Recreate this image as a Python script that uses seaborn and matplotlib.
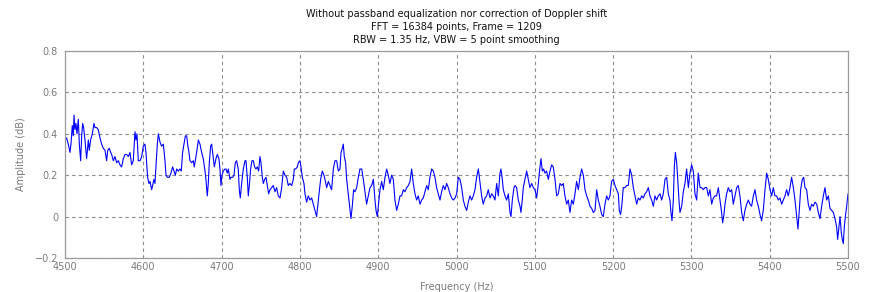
import numpy as np
import pandas as pd
import matplotlib
matplotlib.use("Agg")
import matplotlib.pyplot as plt
import seaborn as sns

title_lines = [
    "Without passband equalization nor correction of Doppler shift",
    "FFT = 16384 points, Frame = 1209",
    "RBW = 1.35 Hz, VBW = 5 point smoothing",
]
x_label = "Frequency (Hz)"
y_label = "Amplitude (dB)"
x_ticks = [4500, 4600, 4700, 4800, 4900, 5000, 5100, 5200, 5300, 5400, 5500]
y_ticks = [-0.2, 0, 0.2, 0.4, 0.6, 0.8]
y_tick_labels = ["\u22120.2", "0", "0.2", "0.4", "0.6", "0.8"]

freq_a = [4500.0, 4502.1, 4504.2, 4506.4, 4507.6, 4509.3, 4510.6, 4511.5, 4512.7, 4514.0,
          4515.3, 4517.0, 4518.3, 4520.0, 4521.3, 4522.5, 4523.8, 4525.5, 4527.6, 4529.8,
          4531.0, 4532.7, 4534.9, 4537.0, 4538.3, 4540.4, 4542.5, 4544.7, 4546.8, 4548.9,
          4551.1, 4553.2, 4554.5, 4556.6, 4558.3, 4559.6, 4561.7, 4563.8, 4566.0, 4568.1,
          4570.2, 4572.3, 4574.5, 4576.6, 4578.7, 4580.9, 4583.0, 4585.1, 4587.2, 4589.4,
          4590.6, 4591.9, 4593.6, 4595.8, 4597.9, 4600.0, 4602.1, 4603.4, 4605.5, 4607.2,
          4608.5, 4610.7, 4611.9, 4613.6, 4614.9, 4616.2, 4617.9, 4619.2, 4621.3, 4623.4,
          4625.6]
amp_a = [0.37, 0.38, 0.35, 0.31, 0.35, 0.44, 0.39, 0.49, 0.42, 0.45,
         0.40, 0.47, 0.35, 0.27, 0.39, 0.45, 0.43, 0.37, 0.28, 0.37,
         0.32, 0.37, 0.40, 0.45, 0.43, 0.43, 0.42, 0.38, 0.35, 0.33,
         0.32, 0.27, 0.32, 0.33, 0.31, 0.30, 0.27, 0.29, 0.26, 0.27,
         0.25, 0.24, 0.28, 0.30, 0.30, 0.29, 0.31, 0.25, 0.27, 0.41,
         0.37, 0.40, 0.27, 0.27, 0.29, 0.34, 0.35, 0.31, 0.19, 0.16,
         0.17, 0.13, 0.15, 0.18, 0.16, 0.24, 0.35, 0.40, 0.36, 0.34,
         0.35]

freq_b = [4627.7, 4629.0, 4630.7, 4633.2, 4635.3, 4637.5, 4639.2, 4640.9, 4642.6, 4644.7,
          4646.8, 4648.5, 4650.2, 4652.0, 4653.7, 4655.4, 4656.6, 4658.3, 4659.6, 4661.7,
          4663.9, 4665.1, 4666.8, 4668.1, 4670.3, 4672.4, 4674.5, 4676.6, 4678.8, 4680.0,
          4681.7, 4683.0, 4684.3, 4686.0, 4687.3, 4688.6, 4690.7, 4692.8, 4694.5, 4696.6,
          4697.9, 4699.2, 4700.5, 4702.2, 4704.3, 4705.6, 4707.3, 4708.6, 4710.7, 4712.0,
          4714.1, 4715.8, 4717.5, 4719.2, 4721.3, 4722.6, 4723.9, 4725.6, 4727.7, 4729.9,
          4731.1, 4732.8, 4734.1, 4735.4, 4737.1, 4738.8, 4740.5, 4742.2, 4743.9, 4745.6,
          4747.3, 4749.0, 4750.3, 4752.0, 4753.3, 4755.0, 4756.7, 4758.4, 4760.1]
amp_b = [0.27, 0.20, 0.19, 0.19, 0.21, 0.24, 0.22, 0.20, 0.23, 0.22,
         0.23, 0.22, 0.31, 0.35, 0.39, 0.39, 0.35, 0.31, 0.27, 0.26,
         0.27, 0.24, 0.28, 0.31, 0.37, 0.35, 0.31, 0.28, 0.22, 0.18,
         0.10, 0.16, 0.26, 0.34, 0.35, 0.31, 0.24, 0.28, 0.30, 0.28,
         0.23, 0.15, 0.20, 0.22, 0.23, 0.23, 0.21, 0.23, 0.18, 0.19,
         0.19, 0.20, 0.26, 0.27, 0.23, 0.13, 0.09, 0.16, 0.23, 0.27,
         0.27, 0.19, 0.10, 0.15, 0.23, 0.27, 0.27, 0.24, 0.23, 0.24,
         0.22, 0.29, 0.26, 0.19, 0.16, 0.18, 0.19, 0.15, 0.11]

freq_c = [4761.8, 4763.9, 4766.0, 4768.2, 4770.3, 4772.4, 4774.6, 4776.7, 4778.8, 4780.9,
          4783.1, 4785.2, 4787.3, 4789.5, 4791.6, 4792.9, 4794.6, 4796.7, 4798.0, 4800.1,
          4801.4, 4803.1, 4805.2, 4806.5, 4808.6, 4810.7, 4812.9, 4815.0, 4817.1, 4819.3,
          4821.4, 4822.7, 4824.4, 4826.5, 4828.6, 4830.7, 4832.0, 4834.2, 4836.3, 4838.4,
          4840.5, 4842.7, 4844.8, 4846.9, 4849.1, 4851.2, 4852.5, 4854.2, 4855.4, 4856.7,
          4858.4, 4859.7, 4861.8, 4863.5, 4865.2, 4866.9, 4868.6, 4870.3, 4872.5, 4874.6,
          4876.7, 4878.9, 4881.0, 4883.1, 4885.2, 4887.4, 4889.5, 4891.6, 4893.8]
amp_c = [0.13, 0.14, 0.15, 0.12, 0.14, 0.10, 0.09, 0.14, 0.22, 0.20,
         0.19, 0.15, 0.16, 0.15, 0.18, 0.23, 0.23, 0.24, 0.26, 0.27,
         0.24, 0.19, 0.16, 0.11, 0.07, 0.10, 0.08, 0.09, 0.06, 0.03,
         0.00, 0.05, 0.11, 0.18, 0.22, 0.20, 0.18, 0.14, 0.17, 0.15,
         0.13, 0.23, 0.27, 0.27, 0.22, 0.23, 0.31, 0.33, 0.35, 0.29,
         0.26, 0.18, 0.11, 0.05, -0.01, 0.05, 0.13, 0.12, 0.14, 0.19,
         0.23, 0.23, 0.18, 0.12, 0.06, 0.10, 0.14, 0.15, 0.18]

freq_d = [4895.9, 4897.2, 4898.9, 4900.1, 4902.3, 4904.4, 4906.5, 4908.7, 4910.8, 4912.9,
          4915.0, 4917.2, 4919.3, 4921.4, 4923.6, 4925.7, 4927.8, 4929.9, 4932.1, 4934.2,
          4936.3, 4938.5, 4940.6, 4942.7, 4944.8, 4947.0, 4949.1, 4951.2, 4953.4, 4955.5,
          4957.6, 4959.7, 4961.9, 4964.0, 4966.1, 4968.3, 4970.4, 4972.5, 4974.6, 4976.8,
          4978.9, 4981.0, 4983.2, 4985.3, 4987.4, 4989.5, 4991.7, 4993.8, 4995.9, 4998.1,
          5000.2, 5002.3, 5004.4, 5006.6, 5008.7, 5010.8, 5013.0, 5015.1, 5017.2, 5019.3,
          5021.5, 5023.6, 5025.7, 5027.9]
amp_d = [0.08, 0.03, 0.00, 0.05, 0.13, 0.17, 0.13, 0.19, 0.23, 0.20,
         0.16, 0.20, 0.18, 0.08, 0.03, 0.06, 0.10, 0.10, 0.13, 0.12,
         0.14, 0.15, 0.17, 0.23, 0.16, 0.11, 0.08, 0.10, 0.06, 0.08,
         0.09, 0.12, 0.15, 0.13, 0.19, 0.23, 0.22, 0.19, 0.14, 0.11,
         0.08, 0.12, 0.15, 0.13, 0.16, 0.14, 0.11, 0.09, 0.08, 0.09,
         0.11, 0.19, 0.18, 0.14, 0.08, 0.05, 0.03, 0.07, 0.10, 0.08,
         0.10, 0.13, 0.19, 0.23]

freq_e = [5030.8, 5032.1, 5034.2, 5036.4, 5038.5, 5040.6, 5042.8, 5044.9, 5047.0, 5049.1,
          5051.3, 5053.4, 5055.5, 5056.8, 5058.5, 5059.8, 5061.9, 5064.0, 5066.2, 5068.3,
          5069.6, 5071.3, 5073.4, 5074.7, 5076.8, 5078.9, 5081.1, 5082.3, 5084.0, 5085.3,
          5087.5, 5089.6, 5091.7, 5093.8, 5096.0, 5098.1, 5100.2, 5102.4, 5104.5, 5106.6,
          5107.9, 5109.6, 5111.3, 5113.0, 5115.1, 5117.3, 5119.4, 5121.5, 5123.6, 5125.8,
          5127.9, 5130.0, 5132.2, 5134.3, 5136.4, 5138.5, 5140.7, 5142.8, 5144.9, 5147.1,
          5149.2, 5151.3, 5153.4, 5155.6, 5157.7, 5159.8, 5162.0]
amp_e = [0.14, 0.10, 0.06, 0.09, 0.10, 0.13, 0.09, 0.11, 0.10, 0.08,
         0.16, 0.10, 0.21, 0.23, 0.18, 0.13, 0.10, 0.08, 0.11, 0.02,
         0.00, 0.08, 0.14, 0.15, 0.14, 0.08, 0.05, 0.02, 0.08, 0.14,
         0.18, 0.22, 0.18, 0.14, 0.16, 0.14, 0.13, 0.09, 0.16, 0.24,
         0.28, 0.22, 0.23, 0.21, 0.22, 0.18, 0.22, 0.25, 0.24, 0.18,
         0.10, 0.11, 0.16, 0.15, 0.16, 0.10, 0.06, 0.08, 0.02, 0.08,
         0.06, 0.11, 0.17, 0.13, 0.19, 0.23, 0.20]

freq_f = [5164.1, 5166.2, 5168.3, 5170.5, 5172.6, 5174.7, 5176.9, 5179.0, 5181.1, 5183.2,
          5185.4, 5187.5, 5189.6, 5191.8, 5193.9, 5196.0, 5198.1, 5200.3, 5202.4, 5204.5,
          5206.7, 5207.9, 5209.6, 5211.3, 5213.0, 5215.2, 5217.3, 5219.4, 5221.6, 5223.7,
          5225.8, 5227.9, 5230.1, 5232.2, 5234.3, 5236.5, 5238.6, 5240.7, 5242.8, 5245.0,
          5247.1, 5249.2, 5251.4, 5253.5, 5255.6, 5257.7, 5259.9, 5262.0, 5264.1, 5266.3,
          5268.4, 5270.5, 5272.6, 5273.9, 5275.2, 5276.9, 5278.2, 5279.5, 5281.2, 5282.4,
          5284.1, 5285.4, 5287.6, 5289.7, 5291.8, 5293.9, 5296.1]
amp_f = [0.13, 0.10, 0.08, 0.05, 0.04, 0.02, 0.03, 0.13, 0.08, 0.05,
         0.01, 0.00, 0.06, 0.10, 0.08, 0.10, 0.17, 0.18, 0.15, 0.13,
         0.11, 0.03, 0.01, 0.06, 0.14, 0.14, 0.15, 0.15, 0.23, 0.20,
         0.14, 0.10, 0.06, 0.09, 0.08, 0.10, 0.09, 0.11, 0.12, 0.14,
         0.10, 0.08, 0.05, 0.10, 0.08, 0.10, 0.11, 0.08, 0.11, 0.18,
         0.19, 0.11, 0.08, 0.02, -0.02, 0.08, 0.24, 0.31, 0.26, 0.19,
         0.08, 0.02, 0.05, 0.12, 0.16, 0.23, 0.14]

freq_g = [5298.2, 5300.3, 5302.4, 5304.6, 5306.7, 5308.8, 5311.0, 5313.1, 5315.2, 5317.3,
          5319.5, 5321.6, 5323.7, 5325.9, 5328.0, 5330.1, 5332.2, 5334.4, 5336.5, 5338.6,
          5339.9, 5341.6, 5342.9, 5345.0, 5347.1, 5349.3, 5351.4, 5353.5, 5355.7, 5357.8,
          5359.9, 5362.0, 5364.2, 5366.3, 5368.4, 5370.6, 5372.7, 5374.8, 5376.9, 5379.1,
          5381.2, 5383.3, 5385.5, 5387.6, 5389.7, 5391.8, 5394.0, 5396.1, 5398.2, 5400.4,
          5402.5, 5404.6, 5406.7, 5408.9, 5411.0, 5413.1, 5415.3, 5417.4, 5419.5, 5421.6,
          5423.8, 5425.9, 5428.0, 5430.2, 5432.3]
amp_g = [0.21, 0.25, 0.22, 0.11, 0.08, 0.21, 0.14, 0.14, 0.13, 0.14,
         0.14, 0.10, 0.13, 0.06, 0.09, 0.10, 0.10, 0.14, 0.08, 0.02,
         -0.03, 0.01, 0.06, 0.11, 0.14, 0.12, 0.13, 0.06, 0.10, 0.14,
         0.15, 0.10, 0.02, -0.02, 0.03, 0.06, 0.08, 0.06, 0.05, 0.10,
         0.13, 0.08, 0.05, 0.01, -0.02, 0.03, 0.13, 0.21, 0.18, 0.13,
         0.10, 0.14, 0.10, 0.10, 0.08, 0.09, 0.06, 0.08, 0.10, 0.13,
         0.10, 0.14, 0.19, 0.14, 0.08]

freq_h = [5434.4, 5436.1, 5437.8, 5439.5, 5441.7, 5443.4, 5445.1, 5447.2, 5449.3, 5451.5,
          5453.6, 5455.7, 5457.8, 5460.0, 5462.1, 5464.2, 5466.4, 5468.5, 5470.6, 5472.7,
          5474.9, 5477.0, 5479.1, 5481.3, 5483.4, 5485.5, 5486.8, 5488.5, 5489.8, 5491.5,
          5492.7, 5494.0, 5495.3, 5496.6, 5498.3, 5499.6, 5500.0]
amp_h = [0.00, -0.06, 0.03, 0.13, 0.18, 0.19, 0.14, 0.13, 0.06, 0.03,
         0.06, 0.05, 0.07, 0.06, 0.02, -0.01, 0.05, 0.10, 0.14, 0.08,
         0.10, 0.04, 0.03, 0.02, -0.01, -0.05, -0.11, -0.05, 0.00, -0.08,
         -0.11, -0.13, -0.05, 0.00, 0.05, 0.10, 0.11]

freq = freq_a + freq_b + freq_c + freq_d + freq_e + freq_f + freq_g + freq_h
amp = amp_a + amp_b + amp_c + amp_d + amp_e + amp_f + amp_g + amp_h
df = pd.DataFrame({"freq": freq, "amp": amp})

sns.set_style("white")
plt.rcParams["font.family"] = ["DejaVu Sans"]

fig = plt.figure(figsize=(8.72, 2.92), dpi=100)
ax = fig.add_axes([65 / 872, 1 - 258 / 292, (848 - 65) / 872, (258 - 51) / 292])

sns.lineplot(data=df, x="freq", y="amp", ax=ax, color="#0000ff", linewidth=0.8,
             estimator=None, sort=False)

ax.set_xlim(x_ticks[0], x_ticks[-1])
ax.set_ylim(y_ticks[0], y_ticks[-1])
ax.set_xticks(x_ticks)
ax.set_xticklabels([str(t) for t in x_ticks])
ax.set_yticks(y_ticks)
ax.set_yticklabels(y_tick_labels)
ax.grid(True, color="#8a8a8a", linestyle=(0, (3, 3)), linewidth=0.8)
ax.tick_params(axis="x", colors="#7a7a7a", labelsize=7, length=0, pad=3)
ax.tick_params(axis="y", colors="#7a7a7a", labelsize=7, length=0, pad=5)
for s in ax.spines.values():
    s.set_color("#9a9a9a")
    s.set_linewidth(0.9)

ax.set_xlabel(x_label, fontsize=7, color="#7a7a7a", labelpad=7)
ax.set_ylabel(y_label, fontsize=7, color="#7a7a7a", labelpad=6)
ax.set_title("\n".join(title_lines), fontsize=7, color="#111111", linespacing=1.35, pad=6)

fig.savefig("out.png", dpi=100, facecolor="white")
